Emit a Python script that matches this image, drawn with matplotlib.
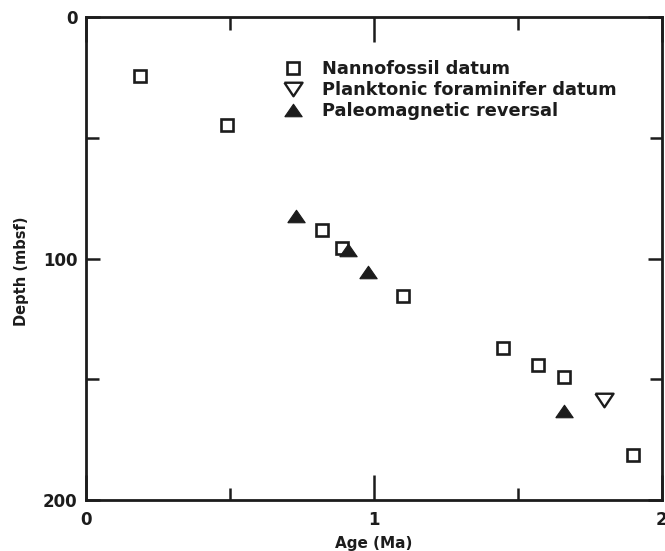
import matplotlib
matplotlib.use("Agg")
import matplotlib.pyplot as plt
from matplotlib.ticker import MultipleLocator

# Age (Ma) and depth (mbsf) of each datum type
nanno_age = [0.19, 0.49, 0.82, 0.89, 1.10, 1.45, 1.57, 1.66, 1.90]
nanno_depth = [24.5, 44.5, 88, 95.5, 115.5, 137, 144, 149, 181.5]

foram_age = [1.80]
foram_depth = [158.5]

paleomag_age = [0.73, 0.91, 0.98, 1.66]
paleomag_depth = [82.5, 96.5, 105.5, 163]

ink = "#1c1c1c"
plt.rcParams["font.family"] = "DejaVu Sans"
plt.rcParams["font.weight"] = "bold"

# flattened triangles
tri_up = [(-1, -0.72), (1, -0.72), (0, 0.72), (-1, -0.72)]
tri_down = [(-1, 0.75), (1, 0.75), (0, -0.75), (-1, 0.75)]

fig = plt.figure(figsize=(6.65, 5.51), dpi=100)
ax = fig.add_axes([0.129, 0.0925, 0.866, 0.876])

ax.plot(nanno_age, nanno_depth, ls="none", marker="s", ms=8.5, mfc="white",
        mec=ink, mew=1.9, label="Nannofossil datum")
ax.plot(foram_age, foram_depth, ls="none", marker=tri_down, ms=13, mfc="white",
        mec=ink, mew=1.7, label="Planktonic foraminifer datum")
ax.plot(paleomag_age, paleomag_depth, ls="none", marker=tri_up, ms=12.5, mfc=ink,
        mec=ink, mew=0.8, label="Paleomagnetic reversal")

ax.set_xlim(0, 2)
ax.set_ylim(200, 0)
ax.xaxis.set_major_locator(MultipleLocator(1))
ax.xaxis.set_minor_locator(MultipleLocator(0.5))
ax.yaxis.set_major_locator(MultipleLocator(100))
ax.yaxis.set_minor_locator(MultipleLocator(50))

for s in ax.spines.values():
    s.set_linewidth(2.0)
    s.set_color(ink)

ax.tick_params(axis="both", which="both", direction="in", top=True, right=True,
               color=ink, width=1.8, labelcolor=ink, labelsize=12)
ax.tick_params(axis="x", which="major", length=18, pad=8)
ax.tick_params(axis="x", which="minor", length=9)
ax.tick_params(axis="y", which="major", length=10, pad=6)
ax.tick_params(axis="y", which="minor", length=9)

ax.set_xlabel("Age (Ma)", fontsize=11, fontweight="bold", color=ink)
ax.set_ylabel("Depth (mbsf)", fontsize=10.5, fontweight="bold", color=ink)
ax.xaxis.set_label_coords(0.5, -0.074)
ax.yaxis.set_label_coords(-0.098, 0.475)

ax.legend(loc="upper left", bbox_to_anchor=(0.346, 0.912), frameon=False,
          fontsize=12.8, borderpad=0, borderaxespad=0, handlelength=0.9,
          handletextpad=1.2, labelspacing=0.18, labelcolor=ink)

fig.savefig("out.png", dpi=100, facecolor="white")
